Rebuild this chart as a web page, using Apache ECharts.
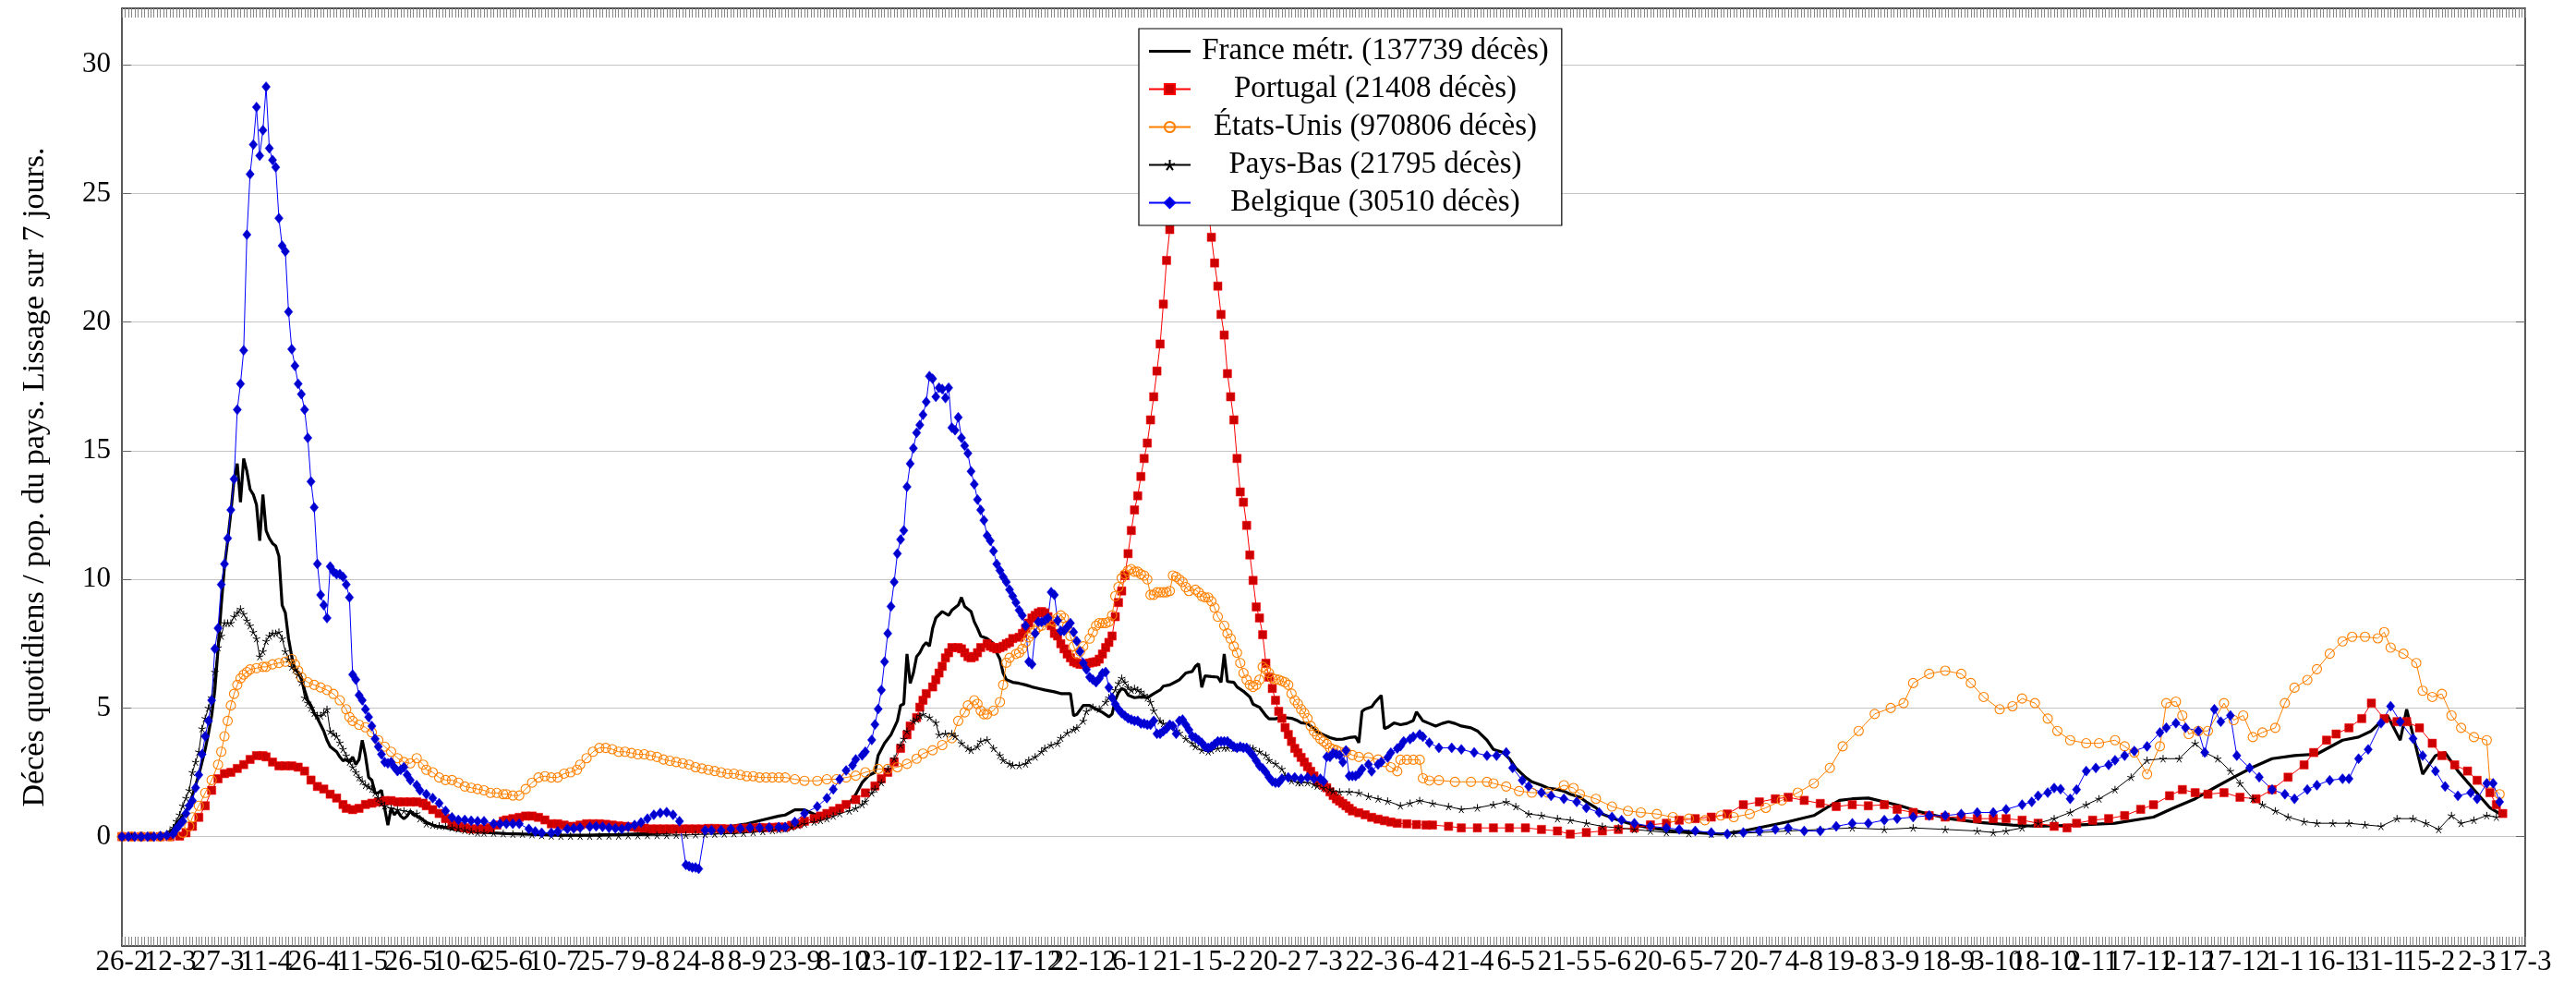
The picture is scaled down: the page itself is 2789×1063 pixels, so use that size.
<!DOCTYPE html>
<html>
<head>
<meta charset="utf-8">
<script src="https://cdn.jsdelivr.net/npm/echarts@6/dist/echarts.min.js"></script>
<style>html,body{margin:0;padding:0;background:#fff}#chart{width:2789px;height:1063px}</style>
</head>
<body>
<div id="chart"></div>
<script>
// jours comptés depuis le 26-2-2020, une étiquette tous les 15 jours
const xLabels = ["26-2","12-3","27-3","11-4","26-4","11-5","26-5","10-6","25-6","10-7","25-7","9-8","24-8","8-9","23-9","8-10","23-10","7-11","22-11","7-12","22-12","6-1","21-1","5-2","20-2","7-3","22-3","6-4","21-4","6-5","21-5","5-6","20-6","5-7","20-7","4-8","19-8","3-9","18-9","3-10","18-10","2-11","17-11","2-12","17-12","1-1","16-1","31-1","15-2","2-3","17-3"];
const seriesNames = ["France métr. (137739 décès)", "Portugal (21408 décès)", "États-Unis (970806 décès)", "Pays-Bas (21795 décès)", "Belgique (30510 décès)"];

// [jour, décès / million / jour]
const france = [[0,0],[3,0],[6,0],[9,0],[12,0.02],[14,0.1],[16,0.3],[17,0.5],[18,0.65],[19,0.8],[20,1.0],[21,1.2],[22,1.6],[23,2.0],[24,2.4],[25,2.9],[26,3.4],[27,4.0],[28,4.7],[29,5.7],[30,7.3],[31,9.0],[32,10.5],[33,11.5],[34,12.6],[35,13.9],[36,14.5],[37,13.0],[38,14.7],[39,14.2],[40,13.5],[41,13.3],[42,12.9],[43,11.5],[44,13.3],[45,11.9],[46,11.6],[47,11.4],[48,11.3],[49,10.9],[50,9.0],[51,8.7],[52,7.7],[53,7.0],[54,6.5],[55,6.4],[56,6.2],[57,5.7],[58,5.3],[59,5.1],[60,4.8],[61,4.6],[62,4.35],[63,4.1],[64,3.75],[65,3.5],[66,3.4],[67,3.3],[68,3.1],[69,2.95],[70,3.0],[71,2.9],[72,3.1],[73,2.8],[74,3.0],[75,3.75],[76,3.15],[77,2.3],[78,2.2],[79,1.7],[80,1.7],[81,1.8],[82,1.1],[83,0.45],[84,1.1],[85,0.85],[86,1.0],[87,0.8],[88,0.7],[89,0.8],[90,1.0],[91,0.85],[92,0.8],[93,0.75],[95,0.55],[98,0.4],[101,0.35],[105,0.25],[110,0.18],[115,0.15],[120,0.12],[125,0.1],[130,0.08],[135,0.06],[140,0.06],[145,0.06],[150,0.07],[155,0.08],[160,0.1],[165,0.12],[170,0.15],[175,0.2],[180,0.25],[185,0.3],[190,0.4],[195,0.5],[200,0.65],[205,0.8],[207,0.84],[210,1.04],[213,1.04],[218,0.77],[222,1.04],[227,1.3],[229,1.64],[231,2.1],[233,2.37],[235,2.5],[236,3.16],[238,3.63],[240,3.96],[242,4.5],[243,5.1],[244,5.16],[245,7.1],[246,5.96],[247,6.36],[248,7.0],[249,7.15],[250,7.4],[251,7.55],[252,7.4],[253,8.1],[254,8.5],[256,8.75],[258,8.6],[259,8.8],[261,9.0],[262,9.3],[263,8.95],[265,8.75],[266,8.35],[267,8.1],[268,7.8],[270,7.7],[272,7.5],[273,7.15],[274,6.9],[275,6.36],[276,6.1],[278,6.0],[280,5.96],[282,5.9],[284,5.82],[286,5.76],[288,5.7],[291,5.63],[293,5.56],[296,5.56],[297,4.7],[298,4.75],[300,5.1],[302,5.1],[304,4.96],[306,4.83],[308,4.66],[309,4.76],[310,5.31],[311,5.6],[312,5.76],[313,5.7],[314,5.5],[316,5.4],[318,5.43],[320,5.4],[322,5.56],[324,5.7],[325,5.85],[327,5.9],[329,6.03],[330,6.1],[332,6.36],[334,6.42],[335,6.62],[336,6.72],[337,5.8],[338,6.25],[340,6.22],[342,6.2],[343,6.0],[344,7.1],[345,6.03],[347,6.0],[348,5.82],[350,5.65],[352,5.43],[353,5.15],[355,5.03],[357,4.7],[358,4.58],[360,4.58],[362,4.65],[363,4.63],[365,4.6],[367,4.5],[368,4.43],[370,4.4],[372,4.2],[373,4.08],[375,3.96],[377,3.85],[379,3.78],[381,3.79],[383,3.85],[385,3.88],[386,3.65],[387,4.87],[388,4.96],[390,5.04],[391,5.22],[393,5.49],[394,4.2],[395,4.25],[397,4.42],[399,4.35],[401,4.4],[403,4.51],[404,4.85],[406,4.5],[408,4.4],[410,4.3],[412,4.4],[414,4.47],[416,4.4],[418,4.3],[421,4.23],[423,4.11],[426,3.75],[428,3.39],[431,3.27],[433,3.03],[435,2.67],[438,2.31],[440,2.13],[443,2.0],[445,1.89],[448,1.83],[450,1.77],[452,1.65],[455,1.53],[457,1.35],[460,1.12],[462,0.88],[467,0.64],[472,0.46],[477,0.34],[484,0.22],[491,0.16],[499,0.1],[506,0.22],[513,0.4],[520,0.58],[528,0.82],[532,1.12],[536,1.41],[540,1.47],[545,1.5],[550,1.35],[555,1.2],[560,1.0],[565,0.85],[570,0.7],[580,0.55],[590,0.45],[598,0.4],[610,0.45],[622,0.52],[634,0.76],[640,1.1],[647,1.47],[653,1.9],[659,2.31],[665,2.7],[671,3.03],[678,3.15],[685,3.21],[693,3.75],[698,3.87],[702,4.11],[707,4.71],[711,3.75],[713,4.95],[718,2.43],[722,3.15],[725,3.27],[729,2.55],[734,1.83],[739,1.12],[743,0.82]];

const portugal = [[0,0],[3,0],[6,0],[9,0],[12,0],[15,0],[18,0.02],[20,0.15],[22,0.4],[24,0.75],[26,1.2],[28,1.8],[30,2.25],[32,2.45],[34,2.5],[36,2.65],[38,2.8],[40,3.0],[42,3.15],[44,3.15],[45,3.1],[47,2.9],[49,2.75],[51,2.75],[53,2.75],[55,2.7],[57,2.55],[59,2.2],[61,1.95],[63,1.85],[65,1.65],[67,1.5],[69,1.25],[70,1.1],[72,1.05],[74,1.1],[76,1.25],[78,1.3],[80,1.35],[82,1.4],[84,1.4],[86,1.35],[88,1.35],[90,1.35],[92,1.35],[94,1.3],[95,1.2],[97,1.05],[99,0.9],[101,0.7],[103,0.5],[105,0.4],[107,0.35],[109,0.3],[111,0.3],[113,0.3],[115,0.35],[117,0.45],[119,0.6],[120,0.65],[122,0.7],[124,0.75],[126,0.8],[128,0.8],[130,0.75],[132,0.65],[134,0.5],[136,0.5],[138,0.45],[140,0.4],[142,0.4],[143,0.45],[145,0.5],[147,0.5],[149,0.5],[151,0.48],[153,0.45],[155,0.42],[157,0.4],[159,0.38],[161,0.35],[163,0.33],[165,0.3],[167,0.3],[169,0.3],[171,0.3],[173,0.3],[175,0.3],[177,0.3],[179,0.3],[181,0.3],[183,0.32],[185,0.32],[187,0.31],[189,0.3],[191,0.3],[193,0.32],[195,0.33],[197,0.34],[199,0.35],[201,0.35],[203,0.36],[205,0.37],[207,0.37],[209,0.44],[211,0.5],[213,0.6],[216,0.7],[218,0.8],[220,0.9],[222,1.0],[224,1.1],[226,1.25],[229,1.44],[232,1.7],[235,1.97],[237,2.25],[239,2.5],[241,2.9],[243,3.43],[245,3.96],[246,4.3],[248,4.63],[249,5.03],[250,5.3],[251,5.56],[253,5.82],[254,6.1],[255,6.36],[256,6.62],[257,6.95],[258,7.15],[259,7.35],[261,7.35],[262,7.3],[263,7.15],[264,7.0],[265,6.95],[266,7.0],[267,7.15],[268,7.35],[270,7.5],[271,7.4],[272,7.35],[273,7.3],[274,7.35],[275,7.4],[276,7.5],[277,7.55],[278,7.7],[280,7.75],[281,7.9],[282,8.1],[283,8.3],[284,8.5],[285,8.6],[286,8.7],[287,8.75],[288,8.7],[289,8.55],[290,8.2],[291,7.9],[292,7.8],[293,7.5],[294,7.3],[295,7.1],[296,6.95],[297,6.8],[298,6.75],[299,6.7],[300,6.7],[301,6.72],[302,6.75],[303,6.78],[304,6.8],[305,6.9],[306,7.1],[307,7.35],[308,7.55],[309,7.8],[310,8.55],[311,9.1],[312,9.55],[313,10.15],[314,11.0],[315,11.9],[316,12.7],[317,13.25],[318,14.0],[319,14.7],[320,15.3],[321,16.2],[322,17.1],[323,18.1],[324,19.15],[325,20.7],[326,22.4],[327,23.6],[328,24.8],[329,25.9],[330,26.8],[331,27.5],[332,28.0],[333,28.3],[334,28.2],[335,27.9],[336,27.3],[337,26.5],[338,25.5],[339,24.4],[340,23.3],[341,22.3],[342,21.4],[343,20.3],[344,19.5],[345,18.0],[346,17.1],[347,16.2],[348,14.7],[349,13.4],[350,13.0],[351,12.1],[352,10.95],[353,9.96],[354,8.93],[355,8.5],[356,7.85],[357,6.74],[358,6.2],[359,5.76],[360,5.3],[361,4.87],[362,4.6],[363,4.24],[364,3.97],[365,3.7],[366,3.43],[367,3.26],[368,3.08],[369,2.9],[370,2.72],[371,2.54],[372,2.36],[373,2.18],[374,2.09],[375,2.0],[376,1.9],[377,1.74],[378,1.6],[379,1.47],[380,1.38],[381,1.29],[382,1.2],[383,1.1],[384,1.0],[386,0.93],[388,0.85],[390,0.75],[392,0.68],[394,0.62],[396,0.57],[398,0.52],[401,0.5],[404,0.47],[407,0.45],[409,0.45],[414,0.4],[418,0.34],[423,0.34],[428,0.34],[433,0.34],[438,0.34],[443,0.28],[448,0.22],[452,0.1],[457,0.16],[462,0.22],[467,0.28],[472,0.34],[477,0.46],[482,0.52],[486,0.64],[491,0.7],[496,0.76],[501,0.88],[506,1.24],[511,1.35],[516,1.47],[520,1.53],[525,1.41],[530,1.29],[535,1.17],[540,1.24],[545,1.2],[550,1.24],[554,1.06],[559,0.94],[564,0.82],[569,0.76],[574,0.76],[579,0.7],[584,0.7],[588,0.7],[593,0.64],[598,0.52],[603,0.4],[607,0.34],[610,0.52],[615,0.64],[620,0.7],[625,0.82],[630,1.06],[634,1.24],[639,1.59],[643,1.83],[647,1.71],[651,1.65],[656,1.71],[661,1.53],[666,1.47],[671,1.83],[676,2.31],[681,2.79],[684,3.27],[688,3.75],[691,3.99],[695,4.23],[699,4.59],[702,5.19],[706,4.59],[710,4.47],[713,4.47],[717,4.23],[721,3.63],[724,3.15],[728,2.79],[732,2.55],[735,2.19],[739,1.71],[741,1.24],[743,0.9]];

const etatsUnis = [[0,0],[3,0],[6,0],[9,0],[12,0],[15,0.02],[19,0.15],[21,0.4],[22,0.75],[24,1.2],[26,1.7],[28,2.2],[30,2.8],[31,3.3],[32,3.9],[33,4.5],[34,5.1],[35,5.55],[36,5.9],[37,6.15],[38,6.3],[39,6.4],[40,6.5],[42,6.55],[44,6.6],[45,6.6],[47,6.7],[49,6.75],[51,6.8],[53,6.9],[54,6.7],[55,6.45],[56,6.2],[58,6.0],[60,5.9],[62,5.8],[64,5.7],[66,5.55],[68,5.3],[70,4.95],[71,4.65],[72,4.5],[74,4.35],[76,4.25],[78,4.05],[80,3.75],[82,3.5],[84,3.3],[86,3.05],[88,2.9],[90,2.85],[92,3.05],[94,2.8],[95,2.6],[97,2.5],[99,2.3],[101,2.2],[103,2.2],[105,2.1],[107,1.95],[109,1.9],[111,1.85],[113,1.8],[115,1.7],[117,1.7],[119,1.65],[120,1.65],[122,1.6],[124,1.6],[126,1.85],[128,2.1],[130,2.3],[132,2.35],[134,2.3],[136,2.3],[138,2.45],[140,2.5],[142,2.6],[143,2.8],[145,3.05],[147,3.3],[149,3.45],[151,3.45],[153,3.4],[155,3.3],[157,3.3],[159,3.25],[161,3.2],[163,3.2],[165,3.15],[167,3.1],[169,3.0],[171,2.95],[173,2.9],[175,2.85],[177,2.8],[179,2.7],[181,2.65],[183,2.6],[185,2.55],[187,2.5],[189,2.45],[191,2.45],[193,2.4],[195,2.35],[197,2.35],[199,2.3],[201,2.3],[203,2.3],[205,2.3],[207,2.3],[210,2.23],[213,2.17],[217,2.17],[220,2.23],[223,2.23],[226,2.3],[229,2.37],[232,2.5],[236,2.63],[239,2.63],[242,2.7],[245,2.83],[248,3.03],[250,3.23],[253,3.36],[256,3.56],[259,3.83],[261,4.5],[263,4.83],[264,5.1],[266,5.3],[267,5.16],[268,4.9],[269,4.76],[270,4.76],[272,4.9],[274,5.23],[275,5.9],[276,6.76],[277,6.95],[279,7.1],[280,7.15],[281,7.3],[282,7.55],[283,7.75],[284,7.9],[285,8.0],[286,8.15],[287,8.2],[288,8.35],[290,8.4],[291,8.35],[292,8.5],[293,8.6],[294,8.5],[295,8.2],[296,7.8],[297,7.4],[298,7.1],[299,7.2],[300,7.4],[302,7.7],[303,7.95],[304,8.2],[305,8.3],[306,8.3],[307,8.3],[308,8.35],[309,8.6],[310,9.35],[311,9.7],[312,10.05],[313,10.2],[314,10.35],[315,10.4],[316,10.3],[317,10.3],[318,10.2],[319,10.15],[320,10.0],[321,9.4],[322,9.4],[323,9.5],[324,9.5],[325,9.5],[326,9.5],[327,9.55],[328,10.15],[329,10.1],[330,10.0],[331,9.9],[332,9.7],[333,9.55],[335,9.6],[336,9.5],[337,9.35],[338,9.3],[339,9.3],[340,9.15],[341,8.9],[342,8.55],[344,8.2],[345,7.9],[346,7.7],[347,7.4],[348,7.15],[349,6.75],[350,6.36],[351,6.1],[352,5.9],[353,5.82],[354,5.9],[355,6.1],[356,6.6],[357,6.5],[358,6.36],[359,6.16],[360,6.12],[361,6.1],[362,6.05],[363,6.0],[364,5.9],[365,5.56],[366,5.3],[367,5.16],[368,4.95],[369,4.8],[370,4.6],[371,4.3],[372,4.1],[373,3.95],[374,3.8],[375,3.7],[376,3.6],[377,3.45],[378,3.4],[379,3.36],[380,3.3],[382,3.3],[384,3.17],[386,3.1],[389,3.08],[392,3.0],[394,2.9],[396,2.7],[398,2.54],[399,2.99],[401,2.99],[403,2.99],[405,2.99],[406,2.27],[408,2.18],[411,2.19],[416,2.13],[421,2.13],[426,2.13],[428,2.07],[432,1.95],[436,1.77],[440,1.71],[445,1.71],[450,2.0],[453,1.89],[455,1.65],[460,1.47],[465,1.17],[470,1.0],[474,0.94],[479,0.88],[484,0.76],[489,0.7],[494,0.64],[499,0.82],[503,0.76],[508,0.88],[513,1.12],[518,1.41],[523,1.71],[528,2.07],[533,2.67],[537,3.51],[542,4.11],[547,4.77],[552,5.0],[556,5.19],[559,5.97],[564,6.33],[569,6.45],[574,6.33],[577,5.97],[581,5.43],[586,4.95],[590,5.07],[593,5.37],[597,5.19],[601,4.59],[604,4.11],[608,3.75],[613,3.63],[617,3.63],[622,3.75],[625,3.51],[628,3.27],[632,2.43],[636,3.51],[638,5.19],[641,5.25],[643,4.71],[645,3.99],[648,4.11],[651,4.11],[656,5.19],[659,4.53],[662,4.71],[665,3.87],[668,4.05],[672,4.23],[675,5.19],[678,5.79],[682,6.09],[685,6.51],[689,7.11],[693,7.59],[696,7.77],[700,7.77],[704,7.71],[706,7.95],[708,7.35],[712,7.11],[716,6.75],[718,5.67],[721,5.43],[724,5.55],[727,4.71],[730,4.23],[734,3.87],[738,3.75],[739,2.07],[742,1.65]];

const paysBas = [[0,0],[3,0],[6,0],[9,0],[12,0.02],[14,0.1],[15,0.2],[16,0.35],[17,0.6],[18,0.85],[19,1.2],[20,1.5],[21,1.8],[22,2.5],[23,2.9],[24,3.3],[25,4.2],[26,4.6],[27,5.0],[28,5.4],[29,6.4],[30,7.35],[31,7.8],[32,8.3],[33,8.3],[34,8.3],[35,8.55],[36,8.7],[37,8.85],[38,8.65],[39,8.4],[40,8.2],[41,7.95],[42,7.7],[43,7.0],[44,7.2],[45,7.6],[46,7.8],[47,7.9],[48,7.9],[49,7.95],[50,7.7],[51,7.2],[52,6.9],[53,6.6],[54,6.5],[55,6.3],[56,6.0],[57,5.4],[58,5.2],[59,5.0],[60,4.8],[61,4.7],[62,4.7],[63,4.8],[64,4.95],[65,4.1],[66,4.0],[67,3.9],[68,3.65],[69,3.4],[70,3.15],[71,2.9],[72,2.7],[73,2.5],[74,2.3],[75,2.15],[76,2.0],[77,1.95],[78,1.85],[79,1.7],[80,1.5],[81,1.3],[82,1.2],[84,1.1],[86,1.05],[88,1.0],[90,0.95],[92,0.9],[93,0.7],[95,0.5],[97,0.45],[99,0.42],[101,0.4],[103,0.35],[105,0.3],[107,0.25],[109,0.2],[111,0.15],[113,0.15],[116,0.14],[119,0.12],[122,0.1],[125,0.1],[128,0.08],[131,0.05],[134,0.03],[137,0.02],[140,0.02],[143,0.02],[146,0.02],[149,0.02],[152,0.03],[155,0.03],[158,0.04],[161,0.04],[164,0.05],[167,0.05],[170,0.05],[173,0.06],[176,0.06],[179,0.08],[182,0.09],[185,0.1],[188,0.11],[191,0.12],[194,0.14],[197,0.17],[200,0.2],[203,0.24],[205,0.27],[207,0.3],[209,0.37],[211,0.44],[213,0.5],[216,0.57],[218,0.63],[220,0.7],[222,0.8],[224,0.9],[227,1.0],[229,1.1],[231,1.25],[232,1.37],[234,1.7],[235,1.85],[237,2.1],[239,2.63],[241,3.03],[243,3.56],[244,3.8],[245,4.1],[247,4.5],[248,4.56],[249,4.7],[250,4.76],[252,4.63],[254,4.43],[255,3.96],[257,4.0],[259,4.0],[260,3.9],[262,3.63],[264,3.43],[265,3.36],[267,3.5],[268,3.7],[270,3.76],[272,3.43],[274,3.16],[275,2.97],[277,2.83],[278,2.77],[280,2.77],[282,2.83],[283,2.97],[285,3.1],[287,3.3],[288,3.43],[290,3.56],[292,3.63],[293,3.83],[295,4.03],[297,4.16],[298,4.23],[300,4.5],[301,4.87],[303,5.03],[305,4.96],[307,5.23],[308,5.4],[310,5.7],[311,5.96],[312,6.16],[313,6.0],[314,5.8],[315,5.7],[316,5.76],[317,5.7],[318,5.63],[319,5.5],[320,5.4],[321,5.23],[322,4.9],[324,4.5],[325,4.4],[327,4.3],[329,4.1],[330,4.03],[332,3.8],[334,3.63],[335,3.5],[337,3.36],[339,3.3],[340,3.36],[342,3.43],[344,3.45],[345,3.45],[347,3.43],[349,3.45],[350,3.5],[352,3.45],[353,3.43],[355,3.3],[357,3.16],[358,2.97],[360,2.83],[362,2.63],[363,2.37],[365,2.17],[367,2.1],[368,2.1],[370,2.1],[372,2.03],[373,1.97],[375,1.9],[377,1.84],[378,1.77],[380,1.74],[383,1.74],[386,1.7],[389,1.56],[392,1.47],[395,1.38],[399,1.2],[402,1.3],[405,1.4],[409,1.29],[414,1.17],[418,1.06],[423,1.12],[428,1.24],[432,1.35],[435,1.17],[439,0.88],[443,0.82],[448,0.7],[452,0.64],[457,0.52],[462,0.4],[467,0.34],[472,0.28],[477,0.22],[482,0.16],[489,0.12],[496,0.1],[503,0.12],[511,0.16],[520,0.22],[530,0.28],[540,0.34],[550,0.28],[559,0.34],[569,0.28],[579,0.22],[584,0.16],[588,0.22],[593,0.34],[598,0.52],[603,0.7],[608,0.94],[613,1.24],[617,1.47],[622,1.83],[627,2.31],[632,2.97],[637,3.03],[642,3.03],[647,3.63],[650,3.27],[654,3.03],[658,2.55],[661,2.07],[665,1.47],[668,1.24],[672,1.0],[676,0.76],[681,0.58],[685,0.52],[690,0.52],[695,0.52],[700,0.46],[705,0.4],[710,0.7],[715,0.7],[719,0.52],[723,0.28],[727,0.82],[730,0.52],[734,0.64],[738,0.82],[741,0.76]];

const belgique = [[0,0],[2,0],[4,0],[6,0],[8,0],[10,0],[12,0.02],[14,0.05],[16,0.1],[17,0.3],[18,0.45],[19,0.6],[20,0.9],[21,1.2],[22,1.4],[23,1.9],[24,2.4],[25,3.2],[26,3.9],[27,4.5],[28,5.3],[29,7.3],[30,8.1],[31,9.8],[32,10.6],[33,11.6],[34,12.7],[35,13.9],[36,16.6],[37,17.6],[38,18.9],[39,23.4],[40,25.75],[41,26.9],[42,28.36],[43,26.47],[44,27.46],[45,29.15],[46,26.76],[47,26.3],[48,26.02],[49,24.04],[50,22.97],[51,22.75],[52,20.4],[53,18.95],[54,18.3],[55,17.6],[56,17.2],[57,16.6],[58,15.5],[59,13.8],[60,12.8],[61,10.6],[62,9.4],[63,9.0],[64,8.5],[65,10.5],[66,10.3],[67,10.2],[68,10.2],[69,10.1],[70,9.8],[71,9.3],[72,6.3],[73,6.1],[74,5.5],[75,5.3],[76,4.95],[77,4.65],[78,4.3],[79,3.8],[80,3.5],[81,3.2],[82,2.9],[83,2.85],[84,2.9],[85,2.7],[86,2.55],[87,2.6],[88,2.7],[89,2.4],[90,2.2],[92,2.0],[93,1.8],[95,1.65],[97,1.5],[99,1.3],[101,1.0],[103,0.75],[105,0.65],[107,0.65],[109,0.62],[111,0.6],[113,0.6],[116,0.5],[118,0.5],[120,0.5],[122,0.5],[124,0.5],[127,0.3],[129,0.2],[131,0.15],[134,0.15],[136,0.2],[139,0.3],[141,0.32],[143,0.35],[146,0.38],[148,0.4],[150,0.38],[152,0.35],[154,0.32],[156,0.3],[158,0.38],[160,0.45],[162,0.55],[164,0.7],[166,0.85],[168,0.92],[170,0.95],[172,0.85],[174,0.6],[176,-1.1],[177,-1.15],[178,-1.2],[179,-1.2],[180,-1.25],[182,0.25],[184,0.25],[187,0.25],[190,0.3],[193,0.32],[196,0.35],[199,0.35],[202,0.36],[205,0.37],[207,0.37],[210,0.57],[213,0.9],[217,1.17],[220,1.5],[222,1.84],[224,2.23],[226,2.57],[228,2.77],[229,3.0],[231,3.16],[232,3.3],[234,3.76],[235,4.36],[236,4.96],[237,5.7],[238,6.8],[239,7.9],[240,8.95],[241,9.9],[242,11.0],[243,11.55],[244,11.9],[245,13.6],[246,14.5],[247,15.1],[248,15.7],[249,16.0],[250,16.4],[251,16.9],[252,17.9],[253,17.8],[254,17.1],[255,17.45],[256,17.4],[257,17.05],[258,17.45],[259,15.9],[260,15.8],[261,16.3],[262,15.5],[263,15.2],[264,14.9],[265,14.2],[266,13.7],[267,13.1],[268,12.7],[269,12.3],[270,11.7],[271,11.5],[272,11.1],[273,10.6],[274,10.35],[275,10.1],[276,9.9],[277,9.6],[278,9.35],[279,9.1],[280,8.8],[281,8.6],[282,8.2],[283,6.8],[284,6.7],[285,7.9],[286,8.35],[287,8.35],[288,8.4],[289,8.5],[290,9.5],[291,9.4],[292,8.4],[293,8.0],[294,8.0],[295,8.15],[296,8.3],[297,7.95],[298,7.6],[299,7.2],[300,6.75],[301,6.5],[302,6.2],[303,6.1],[304,6.0],[305,6.15],[306,6.35],[307,6.4],[308,5.8],[309,5.4],[310,5.15],[311,4.95],[312,4.8],[313,4.7],[314,4.6],[315,4.55],[316,4.5],[317,4.5],[318,4.4],[319,4.4],[320,4.35],[321,4.35],[322,4.5],[323,4.0],[324,4.0],[325,4.1],[326,4.2],[327,4.35],[328,4.3],[329,4.0],[330,4.5],[331,4.55],[332,4.35],[333,4.15],[334,3.9],[335,3.85],[336,3.75],[337,3.65],[338,3.5],[339,3.45],[340,3.5],[341,3.6],[342,3.7],[343,3.7],[344,3.7],[345,3.7],[346,3.6],[347,3.5],[348,3.45],[349,3.5],[350,3.45],[351,3.45],[352,3.3],[353,3.15],[354,2.95],[355,2.75],[356,2.65],[357,2.5],[358,2.3],[359,2.15],[360,2.1],[361,2.1],[362,2.25],[364,2.3],[366,2.3],[368,2.25],[370,2.3],[372,2.25],[374,2.25],[375,2.15],[376,3.1],[377,3.1],[378,3.25],[379,3.2],[380,3.17],[381,2.9],[382,3.35],[383,2.36],[384,2.36],[385,2.36],[386,2.45],[387,2.63],[389,2.81],[390,2.54],[392,2.81],[393,2.9],[395,3.08],[396,3.26],[398,3.43],[399,3.52],[400,3.7],[402,3.79],[403,3.88],[405,3.97],[406,3.88],[408,3.65],[411,3.45],[415,3.45],[418,3.39],[422,3.27],[426,3.15],[429,3.15],[432,3.27],[434,2.67],[437,2.19],[439,1.95],[443,1.71],[446,1.59],[450,1.47],[454,1.35],[457,1.12],[461,0.94],[465,0.76],[468,0.64],[472,0.52],[477,0.4],[482,0.34],[486,0.28],[491,0.22],[496,0.16],[501,0.1],[506,0.16],[511,0.22],[516,0.28],[520,0.34],[525,0.22],[530,0.22],[535,0.4],[540,0.52],[545,0.52],[550,0.64],[554,0.7],[559,0.76],[564,0.82],[569,0.82],[574,0.88],[579,0.94],[584,0.94],[588,1.06],[593,1.24],[596,1.35],[598,1.59],[601,1.71],[603,1.89],[605,1.85],[608,1.47],[610,1.83],[613,2.55],[616,2.67],[620,2.79],[622,2.97],[625,3.15],[628,3.33],[632,3.51],[636,4.05],[638,4.23],[641,4.41],[644,4.23],[648,4.11],[650,3.27],[653,4.95],[655,4.47],[658,4.71],[660,3.15],[664,2.67],[667,2.31],[671,1.83],[675,1.65],[678,1.47],[682,1.83],[685,2.0],[689,2.19],[693,2.25],[695,2.25],[698,3.03],[701,3.39],[705,4.41],[708,5.07],[711,4.47],[715,3.81],[718,3.15],[722,2.55],[725,1.95],[729,1.59],[733,1.71],[735,1.47],[738,2.07],[740,2.07],[742,1.35]];

const FONT = "'Liberation Serif', 'DejaVu Serif', serif";
const STAR = "path://M0 0L0 -10M0 0L-9.51 -3.09M0 0L-5.88 8.09M0 0L5.88 8.09M0 0L9.51 -3.09";
const THICK_LINE = "path://M0 0L100 0L100 7L0 7Z";
const labelRich = { l: { fontFamily: FONT, fontSize: 31, color: "#000" } };

function xAxisOf(position, withLabels) {
  return {
    type: "value", position, min: 0, max: 750, interval: 15,
    axisLine: { show: true, onZero: false, lineStyle: { color: "#222", width: 1.5 } },
    axisTick: { show: true, inside: true, length: 10, lineStyle: { color: "#888" } },
    minorTick: { show: true, splitNumber: 15, length: 10, lineStyle: { color: "#888" } },
    splitLine: { show: false },
    // la 1re étiquette chevauche la 2e : elle est posée par l'axe auxiliaire ci-dessous
    axisLabel: withLabels
      ? { show: true, margin: 2, showMinLabel: false, showMaxLabel: true, hideOverlap: false,
          formatter: (v) => `{l|${xLabels[Math.round(v / 15)] || ""}}`, rich: labelRich }
      : { show: false },
  };
}

// axe auxiliaire, invisible, qui ne porte que l'étiquette du premier jour
const firstLabelAxis = {
  type: "value", position: "bottom", min: 0, max: 750, interval: 750,
  axisLine: { show: false }, axisTick: { show: false }, splitLine: { show: false },
  axisLabel: { show: true, margin: 2, showMinLabel: true, showMaxLabel: false,
    formatter: (v) => (v === 0 ? `{l|${xLabels[0]}}` : ""), rich: labelRich },
};

function yAxisOf(position, withLabels) {
  return {
    type: "value", position, min: -4.25, max: 32.2, splitNumber: 7,
    axisLine: { show: true, onZero: false, lineStyle: { color: "#222", width: 1.5 } },
    axisTick: { show: true, inside: true, length: 10, lineStyle: { color: "#666" } },
    splitLine: { show: withLabels, lineStyle: { color: "#c4c4c4", width: 1.2 } },
    axisLabel: withLabels
      ? { show: true, margin: 12, color: "#000", fontFamily: FONT, fontSize: 31, showMinLabel: false, showMaxLabel: false,
          formatter: (v) => (Math.abs(v % 5) < 1e-6 ? String(v) : "") }
      : { show: false },
    name: withLabels ? "Décès quotidiens / pop. du pays. Lissage sur 7 jours." : "",
    nameLocation: "middle", nameGap: 77,
    nameTextStyle: { fontFamily: FONT, fontSize: 34, color: "#000" },
  };
}

const chart = echarts.init(document.getElementById("chart"), null, { renderer: "canvas" });
chart.setOption({
  animation: false,
  backgroundColor: "#fff",
  grid: { left: 132, right: 55, top: 9, bottom: 39, outerBoundsMode: "none" },
  xAxis: [xAxisOf("bottom", true), xAxisOf("top", false), firstLabelAxis],
  yAxis: [yAxisOf("left", true), yAxisOf("right", false)],
  legend: {
    orient: "vertical", left: 1233, top: 31,
    padding: [8, 14, 8, 10], itemGap: 8, itemWidth: 45, itemHeight: 14,
    backgroundColor: "#fff", borderColor: "#000", borderWidth: 1.2, borderRadius: 0,
    formatter: (name) => `{t|${name}}`,
    textStyle: { color: "#000", fontFamily: FONT, fontSize: 33, rich: { t: { width: 390, align: "center", fontFamily: FONT, fontSize: 33 } } },
    data: [{ name: seriesNames[0], icon: THICK_LINE, itemStyle: { color: "#000" } }, seriesNames[1], seriesNames[2], seriesNames[3], seriesNames[4]],
  },
  series: [
    { name: seriesNames[0], type: "line", data: france, showSymbol: false, symbol: "none",
      lineStyle: { color: "#000", width: 3.2 }, itemStyle: { color: "#000" } },
    { name: seriesNames[1], type: "line", data: portugal, symbol: "rect", symbolSize: 9,
      lineStyle: { color: "#ff0000", width: 1 }, itemStyle: { color: "#cc0000", borderColor: "#ff0000", borderWidth: 0.5 } },
    { name: seriesNames[2], type: "line", data: etatsUnis, symbol: "circle", symbolSize: 10,
      lineStyle: { color: "#ff8000", width: 1 }, itemStyle: { color: "rgba(255,255,255,0)", borderColor: "#ff8000", borderWidth: 1.1 } },
    { name: seriesNames[3], type: "line", data: paysBas, symbol: STAR, symbolSize: 8,
      lineStyle: { color: "#000", width: 1 }, itemStyle: { color: "#000", borderColor: "#000", borderWidth: 1 } },
    { name: seriesNames[4], type: "line", data: belgique, symbol: "diamond", symbolSize: [9, 11],
      lineStyle: { color: "#0000ff", width: 1 }, itemStyle: { color: "#0000cc", borderColor: "#0000ff", borderWidth: 0.5 } },
  ],
});
</script>
</body>
</html>
